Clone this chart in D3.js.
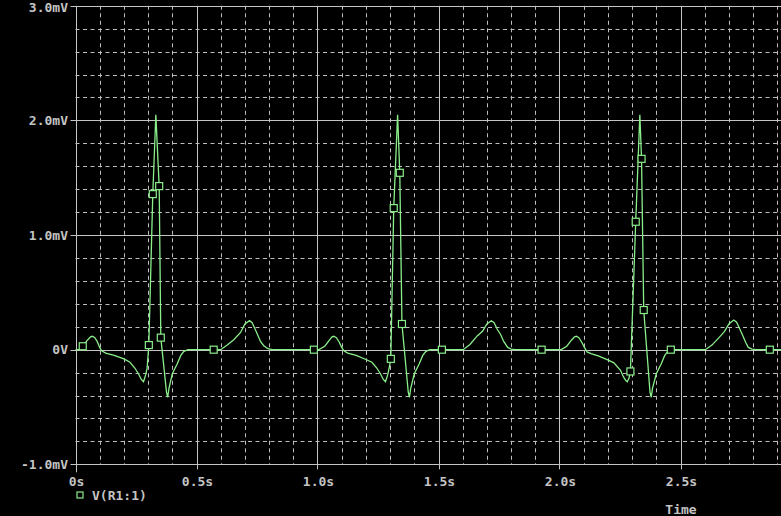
<!DOCTYPE html>
<html lang="en">
<head>
    <meta charset="UTF-8">
    <title>V(R1:1)</title>
    <script src="https://d3js.org/d3.v7.min.js"></script>
    <style>
        body { margin: 0; background: #000; }
        svg { display: block; background: #000; }
        .lbl { font-family: "DejaVu Sans Mono", monospace; font-size: 13px; font-weight: bold; fill: #c4c4c4; }
        .major { stroke: #c4c4c4; stroke-width: 1; }
        .minor { stroke: #bdbdbd; stroke-width: 1; stroke-dasharray: 4,3.5; }
        .trace { fill: none; stroke: #8aee8a; stroke-width: 1.3; }
        .marker { fill: #000; stroke: #8aee8a; stroke-width: 1.2; }
    </style>
</head>
<body>
    <div id="chart"></div>
    <script>
        // x ticks (s) and y ticks (mV)
        const xTicks = [0, 0.5, 1.0, 1.5, 2.0, 2.5];
        const xTickLabels = ["0s", "0.5s", "1.0s", "1.5s", "2.0s", "2.5s"];
        const yTicks = [3.0, 2.0, 1.0, 0, -1.0];
        const yTickLabels = ["3.0mV", "2.0mV", "1.0mV", "0V", "-1.0mV"];

        // V(R1:1) samples, [time s, mV], one array per beat
        const beat1 = [
            [0.000, 0], [0.012, 0], [0.030, 0.03], [0.050, 0.085], [0.062, 0.112], [0.070, 0.117],
            [0.080, 0.105], [0.090, 0.07], [0.100, 0.02], [0.108, -0.01], [0.125, -0.03],
            [0.160, -0.05], [0.200, -0.08], [0.225, -0.11], [0.245, -0.16], [0.260, -0.21],
            [0.272, -0.26], [0.281, -0.28], [0.290, -0.22], [0.296, -0.16], [0.303, 0.04],
            [0.3194, 1.357], [0.332, 2.05], [0.3458, 1.427], [0.3525, 0.105], [0.376, -0.37],
            [0.381, -0.415], [0.386, -0.34], [0.400, -0.21], [0.420, -0.125], [0.435, -0.05],
            [0.448, -0.015], [0.465, 0], [0.571, 0], [0.600, 0], [0.627, 0.04], [0.654, 0.087],
            [0.682, 0.15], [0.700, 0.225], [0.719, 0.253], [0.730, 0.235], [0.742, 0.18],
            [0.751, 0.137], [0.765, 0.07], [0.778, 0.035], [0.795, 0.008], [0.813, 0]
        ];
        const beat2 = [
            [0.985, 0], [1.006, 0], [1.030, 0.03], [1.050, 0.085], [1.060, 0.112], [1.067, 0.117],
            [1.078, 0.105], [1.090, 0.065], [1.100, 0.02], [1.109, -0.01], [1.125, -0.03],
            [1.160, -0.05], [1.205, -0.09], [1.225, -0.11], [1.245, -0.16], [1.260, -0.21],
            [1.272, -0.26], [1.281, -0.28], [1.290, -0.22], [1.296, -0.16], [1.303, -0.08],
            [1.315, 1.235], [1.331, 2.05], [1.340, 1.543], [1.349, 0.224], [1.375, -0.37],
            [1.380, -0.415], [1.385, -0.34], [1.400, -0.21], [1.420, -0.125], [1.435, -0.05],
            [1.448, -0.015], [1.465, 0], [1.514, 0], [1.602, 0], [1.630, 0.045], [1.660, 0.12],
            [1.682, 0.16], [1.700, 0.225], [1.718, 0.252], [1.730, 0.235], [1.742, 0.18],
            [1.756, 0.135], [1.770, 0.07], [1.786, 0.02], [1.800, 0.005], [1.818, 0], [1.926, 0]
        ];
        const beat3 = [
            [2.007, 0], [2.030, 0.03], [2.050, 0.085], [2.062, 0.112], [2.070, 0.117],
            [2.080, 0.105], [2.092, 0.065], [2.103, 0.02], [2.114, -0.02], [2.130, -0.035],
            [2.160, -0.055], [2.197, -0.087], [2.225, -0.115], [2.252, -0.18], [2.265, -0.24],
            [2.274, -0.27], [2.280, -0.28], [2.287, -0.25], [2.293, -0.19], [2.315, 1.116],
            [2.332, 2.05], [2.339, 1.665], [2.348, 0.346], [2.374, -0.37], [2.379, -0.415],
            [2.384, -0.34], [2.400, -0.21], [2.420, -0.125], [2.435, -0.05], [2.448, -0.015],
            [2.460, 0], [2.603, 0], [2.630, 0.04], [2.660, 0.107], [2.682, 0.16], [2.700, 0.225],
            [2.720, 0.259], [2.732, 0.24], [2.745, 0.18], [2.758, 0.12], [2.770, 0.06],
            [2.780, 0.02], [2.795, 0.005], [2.812, 0], [2.869, 0], [2.950, 0]
        ];
        // sample times that carry a trace marker
        const markerTimes = [0.030, 0.303, 0.3194, 0.3458, 0.3525, 0.571,
            0.985, 1.303, 1.315, 1.340, 1.349, 1.514,
            1.926, 2.293, 2.315, 2.339, 2.348, 2.460, 2.869];

        const seriesName = "V(R1:1)";
        const xTitle = "Time";

        const width = 781, height = 516;
        const plotLeft = 75.5, plotTop = 5.8, plotBottom = 464.3;

        const x = d3.scaleLinear().domain([0, 3]).range([plotLeft, plotLeft + 726]);
        const y = d3.scaleLinear().domain([-1, 3]).range([plotBottom, plotTop]);

        const svg = d3.select("#chart").append("svg")
            .attr("width", width)
            .attr("height", height);

        const series = beat1.concat(beat2, beat3);

        // minor dashed grid, every 0.1 s and 0.2 mV
        const xMinor = d3.range(1, 30).map(i => i / 10).filter(v => Math.round(v * 10) % 5 !== 0);
        const yMinor = d3.range(-4, 15).map(i => i / 5).filter(v => Math.round(v * 5) % 5 !== 0);

        const grid = svg.append("g");
        grid.selectAll(".vmin").data(xMinor).enter().append("line")
            .attr("class", "minor")
            .attr("x1", d => Math.round(x(d)) + 0.5).attr("x2", d => Math.round(x(d)) + 0.5)
            .attr("y1", plotTop).attr("y2", plotBottom);
        grid.selectAll(".hmin").data(yMinor).enter().append("line")
            .attr("class", "minor")
            .attr("y1", d => Math.round(y(d)) + 0.5).attr("y2", d => Math.round(y(d)) + 0.5)
            .attr("x1", plotLeft).attr("x2", width);

        // major solid grid + ticks
        grid.selectAll(".vmaj").data(xTicks).enter().append("line")
            .attr("class", "major")
            .attr("x1", d => Math.round(x(d)) + 0.5).attr("x2", d => Math.round(x(d)) + 0.5)
            .attr("y1", plotTop).attr("y2", d => d === 0 ? plotBottom + 8 : plotBottom + 5);
        grid.selectAll(".hmaj").data(yTicks).enter().append("line")
            .attr("class", "major")
            .attr("y1", d => Math.round(y(d)) + 0.5).attr("y2", d => Math.round(y(d)) + 0.5)
            .attr("x1", plotLeft - 5).attr("x2", width);

        // tick labels (top one nudged so it is not clipped)
        svg.selectAll(".ylbl").data(yTicks).enter().append("text")
            .attr("class", "lbl")
            .attr("x", 68)
            .attr("y", d => Math.max(y(d), 7))
            .attr("dy", "0.35em")
            .attr("text-anchor", "end")
            .text((d, i) => yTickLabels[i]);

        svg.selectAll(".xlbl").data(xTicks).enter().append("text")
            .attr("class", "lbl")
            .attr("x", d => x(d) + 1)
            .attr("y", 481)
            .attr("dy", "0.35em")
            .attr("text-anchor", "middle")
            .text((d, i) => xTickLabels[i]);

        svg.append("text")
            .attr("class", "lbl")
            .attr("x", 681).attr("y", 509).attr("dy", "0.35em")
            .attr("text-anchor", "middle")
            .text(xTitle);

        // trace
        const line = d3.line().x(d => x(d[0])).y(d => y(d[1]));
        svg.append("path")
            .datum(series)
            .attr("class", "trace")
            .attr("d", line);

        const markers = series.filter(d => markerTimes.some(t => Math.abs(t - d[0]) < 1e-6));
        svg.selectAll(".marker").data(markers).enter().append("rect")
            .attr("class", "marker")
            .attr("x", d => x(d[0]) - 3.5)
            .attr("y", d => y(d[1]) - 3.5)
            .attr("width", 7)
            .attr("height", 7);

        // legend
        svg.append("rect")
            .attr("class", "marker")
            .attr("x", 77).attr("y", 492)
            .attr("width", 6).attr("height", 6);
        svg.append("text")
            .attr("class", "lbl")
            .attr("x", 92).attr("y", 495).attr("dy", "0.35em")
            .text(seriesName);
    </script>
</body>
</html>
